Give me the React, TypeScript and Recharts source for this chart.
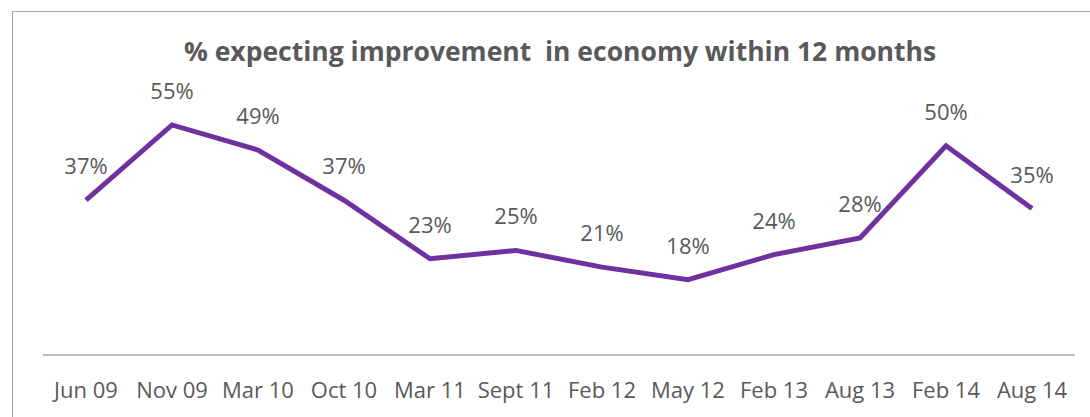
import { LineChart, Line, XAxis, YAxis, LabelList } from "recharts";

const months = [
  "Jun 09", "Nov 09", "Mar 10", "Oct 10", "Mar 11", "Sept 11",
  "Feb 12", "May 12", "Feb 13", "Aug 13", "Feb 14", "Aug 14",
];
const expectingImprovement = [37, 55, 49, 37, 23, 25, 21, 18, 24, 28, 50, 35];

const data = months.map((m, i) => ({ month: m, pct: expectingImprovement[i] }));

const FONT = "'Open Sans', 'Liberation Sans', sans-serif";
const TEXT = "#595959";

export default function App() {
  return (
    <div style={{ position: "fixed", left: 0, top: 0, width: 1090, height: 417, background: "#fff", overflow: "hidden", fontFamily: FONT }}>
      <div style={{ position: "absolute", left: 12, top: 11, width: 1100, height: 420, border: "1.5px solid #a6a6a6", boxSizing: "border-box" }} />
      <div style={{ position: "absolute", left: 0, top: 33, width: 1120, textAlign: "center", fontSize: 26.5, fontWeight: 700, color: TEXT, whiteSpace: "pre" }}>
        {"% expecting improvement  in economy within 12 months"}
      </div>
      <div style={{ position: "absolute", left: 0, top: 0 }}>
        <LineChart width={1090} height={417} data={data} margin={{ top: 104, right: 15, bottom: 22, left: 43 }}>
          <XAxis
            dataKey="month"
            interval={0}
            padding={{ left: 43, right: 43 }}
            tickLine={false}
            tickSize={0}
            tickMargin={27}
            height={40}
            axisLine={{ stroke: "#a6a6a6", strokeWidth: 1.5 }}
            tick={{ fill: TEXT, fontSize: 22, fontFamily: FONT }}
          />
          <YAxis hide domain={[0, 60]} />
          <Line
            type="linear"
            dataKey="pct"
            stroke="#7030a0"
            strokeWidth={5}
            dot={false}
            isAnimationActive={false}
          >
            <LabelList
              dataKey="pct"
              position="top"
              offset={26}
              formatter={(v: number) => `${v}%`}
              style={{ fill: TEXT, fontSize: 22, fontFamily: FONT }}
            />
          </Line>
        </LineChart>
      </div>
    </div>
  );
}
